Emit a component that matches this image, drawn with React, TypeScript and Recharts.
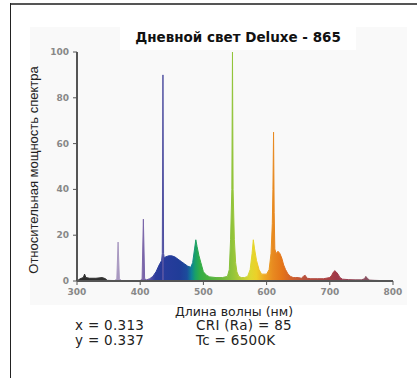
import React from 'react';
import { ComposedChart, Area, XAxis, YAxis } from 'recharts';

const title = 'Дневной свет Deluxe - 865';
const yLabel = 'Относительная мощность спектра';
const xLabel = 'Длина волны (нм)';
const statsLeft = ['x = 0.313', 'y = 0.337'];
const statsRight = ['CRI (Ra) = 85', 'Tc = 6500K'];

const xTicks = [300, 400, 500, 600, 700, 800];
const yTicks = [0, 20, 40, 60, 80, 100];

const wavelengths = [
  300, 305, 310, 312, 314, 320, 330, 340, 345, 348, 360, 363, 365, 367, 370, 380, 390, 400, 403, 405,
  407, 410, 415, 420, 425, 430, 434, 435, 436, 437, 438, 440, 445, 450, 455, 460, 465, 470, 475, 480,
  483, 486, 488, 490, 493, 496, 500, 505, 510, 520, 530, 538, 541, 543, 545, 546, 547, 549, 551, 553,
  556, 560, 565, 570, 574, 577, 579, 581, 584, 588, 592, 596, 600, 604, 607, 609, 610, 611, 612, 613,
  615, 618, 621, 624, 627, 630, 634, 638, 642, 646, 650, 655, 658, 661, 664, 670, 680, 690, 700, 703,
  706, 708, 710, 713, 716, 720, 730, 740, 750, 755, 757, 760, 763, 770, 780, 790, 800,
];
const power = [
  0, 1, 1.5, 3, 1.5, 1.2, 1.2, 1.5, 1, 0.3, 0.2, 1, 17, 1, 0.2, 0, 0, 0.2, 1, 27,
  1, 0.5, 1, 2, 4, 7, 9, 12, 90, 12, 10, 10.5, 11, 11, 10.5, 9.5, 8.5, 7.5, 6.5, 6,
  8, 14, 18, 15, 11, 8, 4, 2.5, 1.8, 1.5, 1.5, 2, 5, 18, 40, 100, 40, 18, 8, 4,
  2, 1.5, 1.5, 2, 5, 12, 18, 14, 9, 5, 3, 3, 3, 5, 12, 25, 40, 65, 30, 14,
  12, 13, 12, 10, 7, 5, 3, 2, 1.5, 1.5, 1.5, 1.2, 2, 2.5, 1.2, 1, 1, 1, 1.5, 2.5,
  4, 4.5, 4, 3, 1.5, 0.8, 0.6, 0.5, 0.5, 1, 2, 1, 0.4, 0.3, 0.2, 0.1, 0,
];

const data = wavelengths.map((w, i) => ({ w, p: power[i] }));

const spectrumStops: [number, string][] = [
  [300, '#2a2a2a'], [345, '#333333'], [355, '#a898c0'], [378, '#a898c0'], [398, '#8a70aa'],
  [412, '#6a5aa8'], [424, '#2c3c9c'], [434, '#283a98'], [436, '#6a5ea6'], [438, '#283c9c'],
  [462, '#203c98'], [474, '#1c4c9c'], [481, '#0f7f96'], [487, '#18a068'], [494, '#30ac48'],
  [505, '#44b040'], [530, '#70b83c'], [546, '#92c43a'], [560, '#b8cc36'], [575, '#e0d830'],
  [584, '#ecd028'], [596, '#eeaa24'], [610, '#e88a20'], [625, '#e47418'], [640, '#d0602c'],
  [660, '#b8503c'], [700, '#a84044'], [710, '#a03848'], [760, '#885060'], [800, '#806070'],
];

const FONT = '"DejaVu Sans", Verdana, sans-serif';

const YTick = (props: any) => {
  const { x, y, payload } = props;
  return (
    <text x={x - 2} y={y} dy={3} textAnchor="end" fontSize={9} fontWeight="bold"
      fill="#888" fontFamily={FONT}>{payload.value}</text>
  );
};
const XTick = (props: any) => {
  const { x, y, payload } = props;
  return (
    <text x={x} y={y} dy={8} textAnchor="middle" fontSize={9} fontWeight="bold"
      fill="#888" fontFamily={FONT}>{payload.value}</text>
  );
};

const statStyle: React.CSSProperties = {
  position: 'absolute', fontFamily: FONT, fontSize: 13.5, letterSpacing: 0.3,
  whiteSpace: 'pre', color: '#222', lineHeight: '14px', height: 14,
};

export default function App() {
  return (
    <div style={{ position: 'absolute', left: 0, top: 0, width: 417, height: 378, background: '#fff', overflow: 'hidden' }}>
      <div style={{ position: 'absolute', left: 10, top: 3, width: 407, height: 2, background: '#555' }} />
      <div style={{ position: 'absolute', left: 10, top: 3, width: 1, height: 375, background: '#222' }} />
      <div style={{ position: 'absolute', left: 30, top: 27, width: 377, height: 278, background: '#f9f9f9' }} />
      <div style={{ position: 'absolute', left: 120, top: 26, width: 236, height: 24, background: '#fff' }} />
      <div style={{ position: 'absolute', left: 0, top: 0 }}>
        <ComposedChart width={417} height={378} data={data}
          margin={{ top: 52, right: 24, bottom: 77, left: 37 }}>
          <defs>
            <linearGradient id="spec" x1="0" y1="0" x2="1" y2="0">
              {spectrumStops.map(([w, c]) => (
                <stop key={w} offset={(w - 300) / 500} stopColor={c} />
              ))}
            </linearGradient>
          </defs>
          <XAxis dataKey="w" type="number" domain={[300, 800]} ticks={xTicks} height={20}
            axisLine={{ stroke: '#555', strokeWidth: 2 }} tickLine={{ stroke: '#555' }} tickSize={4}
            tick={<XTick />} interval={0} allowDataOverflow />
          <YAxis type="number" domain={[0, 100]} ticks={yTicks} width={40}
            axisLine={{ stroke: '#555', strokeWidth: 2 }} tickLine={{ stroke: '#555' }} tickSize={4}
            tick={<YTick />} interval={0} />
          <Area type="linear" dataKey="p" fill="url(#spec)" fillOpacity={1} stroke="url(#spec)"
            strokeWidth={1} isAnimationActive={false} dot={false} activeDot={false} />
        </ComposedChart>
      </div>
      <div style={{ position: 'absolute', left: 238, top: 37, transform: 'translate(-50%,-50%)', fontFamily: FONT, fontWeight: 'bold', fontSize: 13.5, whiteSpace: 'nowrap', color: '#111', lineHeight: '16px' }}>{title}</div>
      <div style={{ position: 'absolute', left: 33, top: 170, transform: 'translate(-50%,-50%) rotate(-90deg)', fontFamily: '"Liberation Sans", Arial, sans-serif', fontSize: 13, whiteSpace: 'nowrap', color: '#222', lineHeight: '15px' }}>{yLabel}</div>
      <div style={{ position: 'absolute', left: 234, top: 311, transform: 'translate(-50%,-50%)', fontFamily: FONT, fontSize: 12.5, whiteSpace: 'nowrap', color: '#222', lineHeight: '13px' }}>{xLabel}</div>
      {statsLeft.map((s, i) => (
        <div key={s} style={{ ...statStyle, left: 75, top: 318 + i * 15 }}>{s}</div>
      ))}
      {statsRight.map((s, i) => (
        <div key={s} style={{ ...statStyle, left: 196, top: 318 + i * 15 }}>{s}</div>
      ))}
    </div>
  );
}
